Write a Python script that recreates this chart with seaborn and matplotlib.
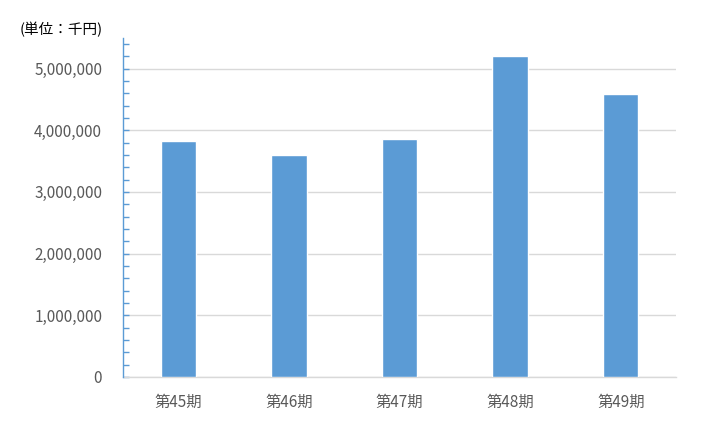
import matplotlib
matplotlib.use("Agg")
import matplotlib.pyplot as plt
import matplotlib.ticker as mticker
import seaborn as sns
import pandas as pd

# 売上高 (単位：千円)
periods = ["第45期", "第46期", "第47期", "第48期", "第49期"]
sales = [3830000, 3600000, 3860000, 5200000, 4590000]

df = pd.DataFrame({"period": periods, "sales": sales})

sns.set_style("white")
plt.rcParams["font.family"] = ["Noto Sans CJK JP", "DejaVu Sans"]

fig = plt.figure(figsize=(7.19, 4.42), dpi=100)
ax = fig.add_axes([0.1711, 0.1471, 0.7691, 0.7676])

sns.barplot(data=df, x="period", y="sales", color="#5B9BD5", width=0.32,
            saturation=1, ax=ax, zorder=3)

ax.set_xlim(-0.5, 4.5)
ax.set_ylim(0, 5500000)
ax.yaxis.set_major_locator(mticker.MultipleLocator(1000000))
ax.yaxis.set_minor_locator(mticker.MultipleLocator(200000))
ax.yaxis.set_major_formatter(mticker.FuncFormatter(lambda v, p: f"{int(v):,}"))
ax.grid(axis="y", which="major", color="#D9D9D9", linewidth=1, zorder=0)

for s in ["top", "right"]:
    ax.spines[s].set_visible(False)
ax.spines["left"].set_color("#5B9BD5")
ax.spines["left"].set_linewidth(1.0)
ax.spines["left"].set_zorder(4)
ax.spines["bottom"].set_color("#D9D9D9")
ax.spines["bottom"].set_linewidth(1.0)

ax.tick_params(axis="y", which="both", left=True, direction="in", length=4.5,
               width=1, color="#5B9BD5", labelsize=11, labelcolor="#595959",
               pad=15)
ax.tick_params(axis="x", bottom=False, length=0, labelsize=11,
               labelcolor="#595959", pad=12)
ax.set_xlabel("")
ax.set_ylabel("")

fig.text(20 / 719, 1 - 30 / 442, "(単位：千円)", fontsize=10.5, color="black",
         va="center", ha="left")

fig.savefig("out.png", dpi=100, facecolor="white")
